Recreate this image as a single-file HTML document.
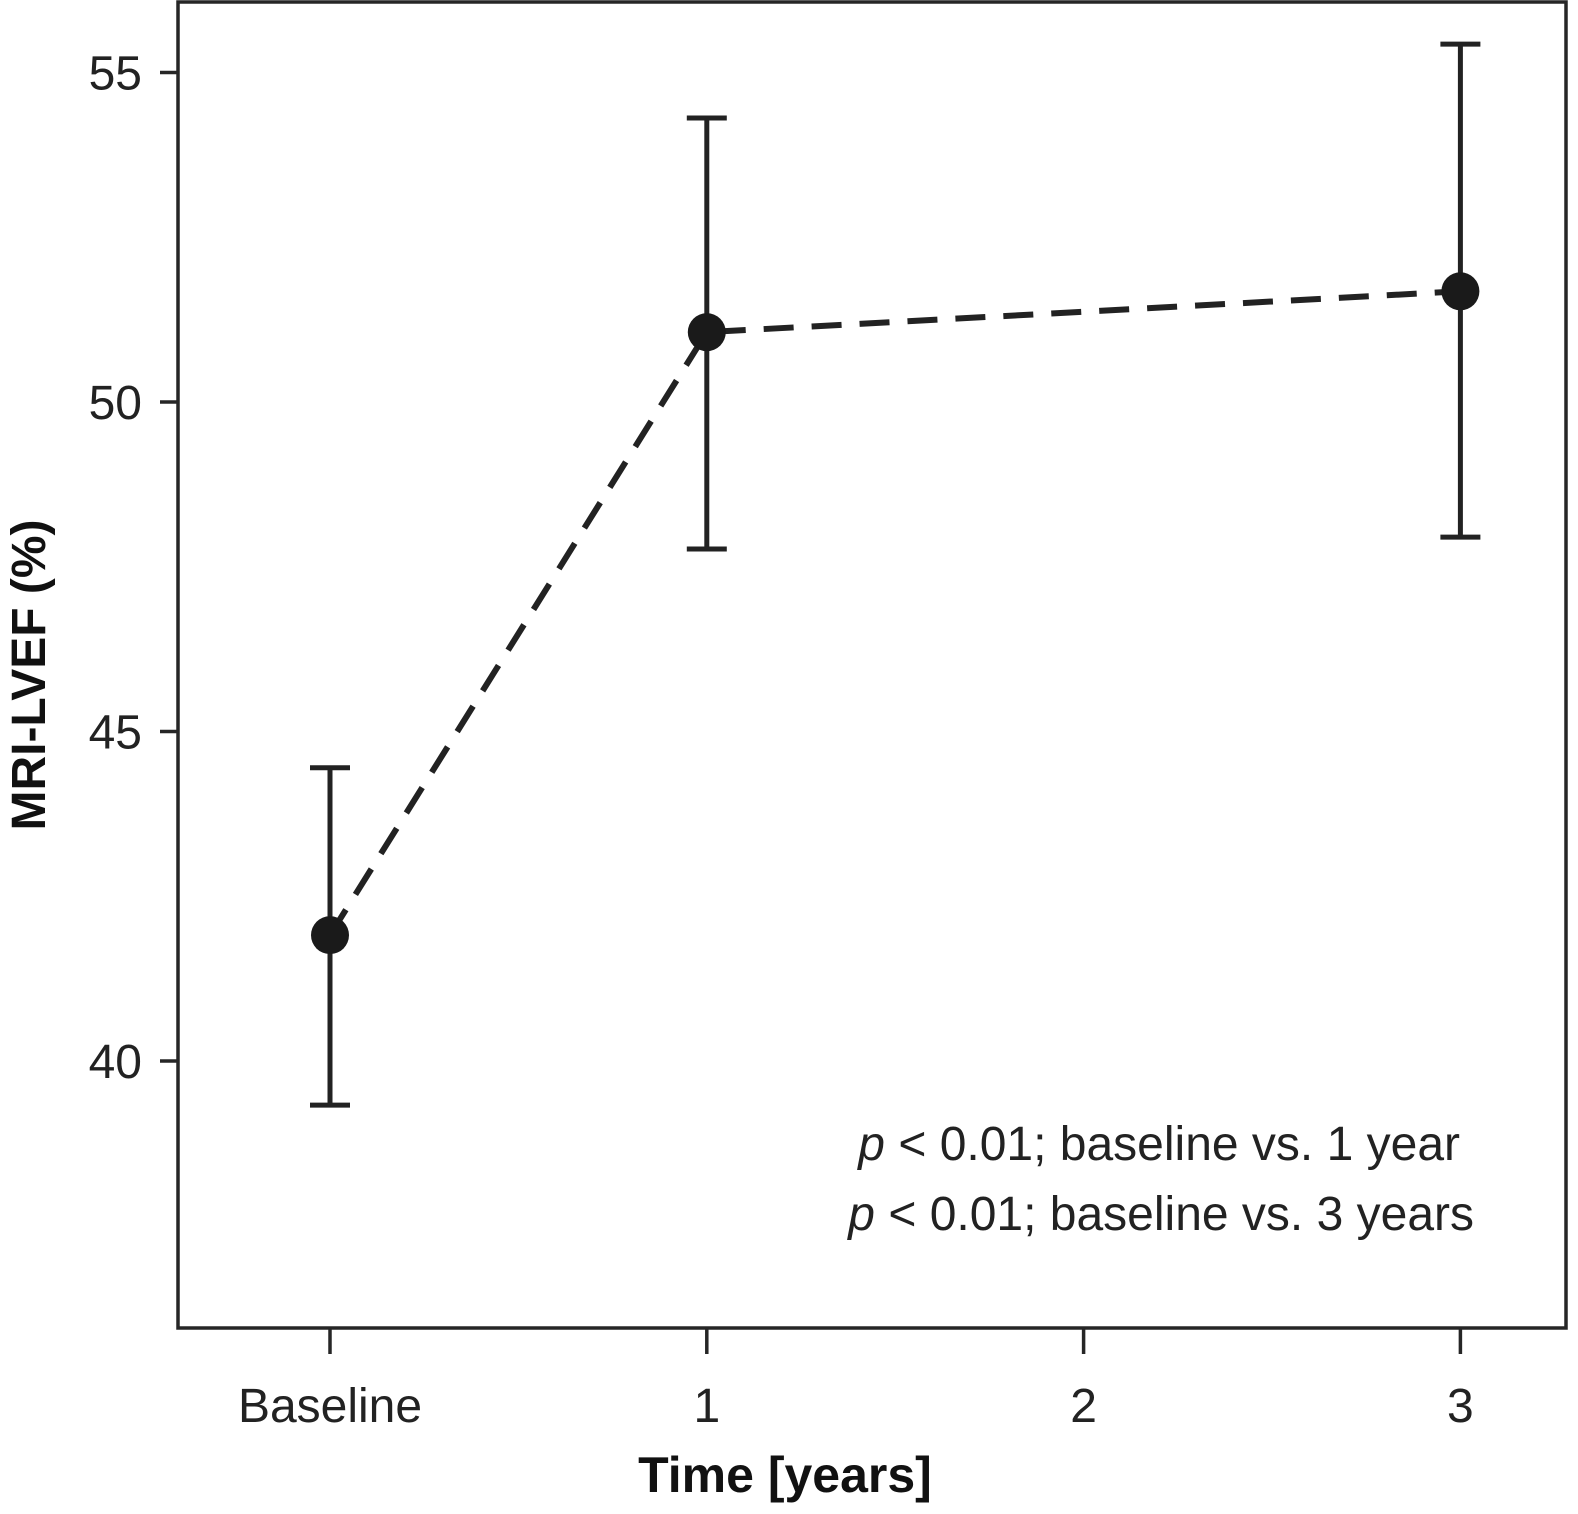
<!DOCTYPE html>
<html><head><meta charset="utf-8"><style>
html,body{margin:0;padding:0;background:#fff;}
svg{display:block;font-family:"Liberation Sans",sans-serif;}
</style></head><body>
<svg id="chart" width="1578" height="1514" viewBox="0 0 1578 1514" xmlns="http://www.w3.org/2000/svg">
<rect x="178" y="2" width="1388" height="1326" fill="none" stroke="#262626" stroke-width="3.5"/>
<g id="axes"></g>
<g id="marks"></g>
<text x="1460" y="1160" text-anchor="end" font-size="48" fill="#222"><tspan font-style="italic">p</tspan> &lt; 0.01; baseline vs. 1 year</text>
<text x="1474" y="1230" text-anchor="end" font-size="48" fill="#222"><tspan font-style="italic">p</tspan> &lt; 0.01; baseline vs. 3 years</text>
<text x="785" y="1492" text-anchor="middle" font-size="50" font-weight="bold" fill="#111">Time [years]</text>
<text transform="translate(45,675) rotate(-90)" text-anchor="middle" font-size="48" font-weight="bold" fill="#111">MRI-LVEF (%)</text>
</svg>
<script>
const categories = ["Baseline", "1", "2", "3"];
const xPositions = [0, 1, 2, 3];
const pointX = [0, 1, 3];
const meanValues = [41.91, 51.06, 51.68];
const upperValues = [44.45, 54.31, 55.43];
const lowerValues = [39.33, 47.77, 47.95];
const yTicks = [40, 45, 50, 55];

const NS = "http://www.w3.org/2000/svg";
const xScale = v => 330 + v * 376.8;
const yScale = v => 402 - (v - 50) * 65.9;
function mk(tag, attrs, parent) {
  const el = document.createElementNS(NS, tag);
  for (const k in attrs) el.setAttribute(k, attrs[k]);
  parent.appendChild(el);
  return el;
}
const axes = document.getElementById("axes");
const marks = document.getElementById("marks");
yTicks.forEach(t => {
  const y = yScale(t);
  const tk = mk("line", {x1: 160, x2: 178, y1: y, y2: y, stroke: "#262626", "stroke-width": 3.5}, axes);
  
  
  const lb = mk("text", {x: 142, y: y + 17, "text-anchor": "end", "font-size": 48, fill: "#222"}, axes);
  lb.textContent = t;
  
  
});
categories.forEach((c, i) => {
  const x = xScale(xPositions[i]);
  const tk = mk("line", {x1: x, x2: x, y1: 1328, y2: 1354, stroke: "#262626", "stroke-width": 3.5}, axes);
  
  
  const lb = mk("text", {x: x, y: 1422, "text-anchor": "middle", "font-size": 48, fill: "#222"}, axes);
  lb.textContent = c;
  
  
});
const pts = pointX.map((p, i) => xScale(p) + "," + yScale(meanValues[i])).join(" ");
const line = mk("polyline", {points: pts, fill: "none", stroke: "#222", "stroke-width": 6, "stroke-dasharray": "30,18"}, marks);


pointX.forEach((p, i) => {
  const x = xScale(p);
  const yt = yScale(upperValues[i]), yb = yScale(lowerValues[i]);
  const g = mk("g", {stroke: "#222", "stroke-width": 5}, marks);
  
  
  mk("line", {x1: x, x2: x, y1: yt, y2: yb}, g);
  mk("line", {x1: x - 20, x2: x + 20, y1: yt, y2: yt}, g);
  mk("line", {x1: x - 20, x2: x + 20, y1: yb, y2: yb}, g);
  const c = mk("circle", {cx: x, cy: yScale(meanValues[i]), r: 19, fill: "#1a1a1a"}, marks);
  
  
});
</script>
</body></html>
